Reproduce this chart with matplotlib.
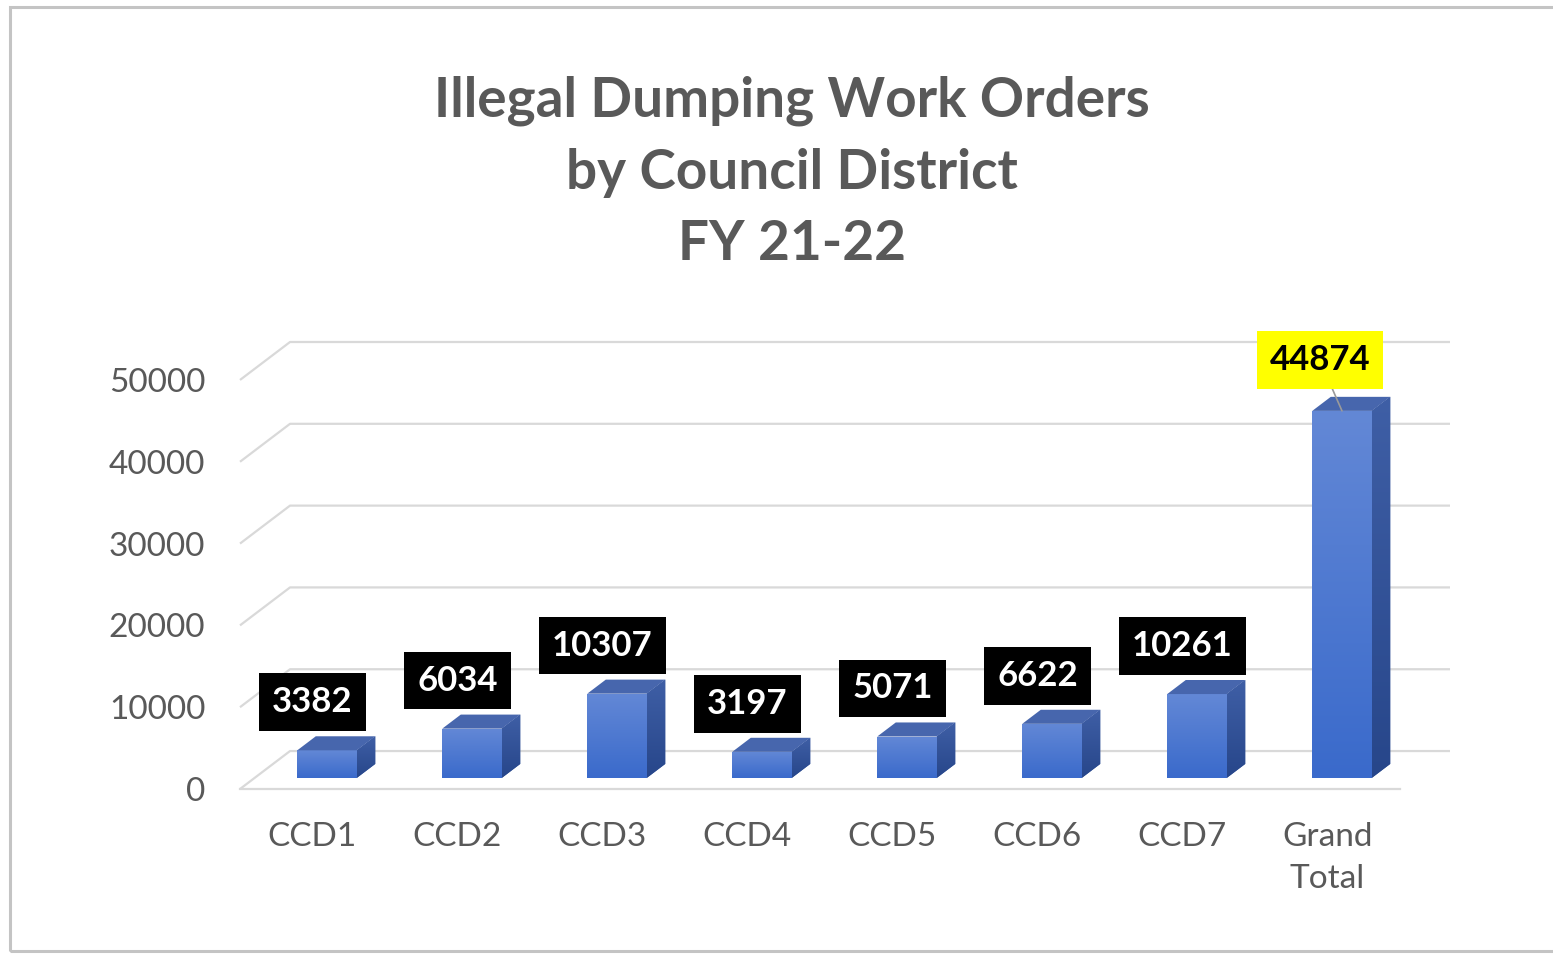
import numpy as np
import matplotlib
matplotlib.use("Agg")
import matplotlib.pyplot as plt
from matplotlib.patches import Polygon, Rectangle
from matplotlib.colors import LinearSegmentedColormap

# ---------------- data ----------------
categories = ["CCD1", "CCD2", "CCD3", "CCD4", "CCD5", "CCD6", "CCD7", "Grand\nTotal"]
values = [3382, 6034, 10307, 3197, 5071, 6622, 10261, 44874]
yticks = [0, 10000, 20000, 30000, 40000, 50000]
title_lines = ["Illegal Dumping Work Orders", "by Council District", "FY 21-22"]

# ---------------- style ----------------
W, H = 1553, 956
FONT = ["Lato", "DejaVu Sans"]
TXT = "#595959"
GRID = "#d9d9d9"
DX = 0.345      # full depth, category units
DY = 4640       # full depth, value units
D0, D1 = 0.29, 0.66   # bar depth range (fraction of floor depth)
BW = 0.41

plt.rcParams["font.family"] = FONT

fig = plt.figure(figsize=(W / 100, H / 100), dpi=100)
fig.patch.set_facecolor("white")

# outer frame
fig.patches.append(Rectangle((10 / W, 1 - 951 / H), (1600 - 10) / W, (951 - 7) / H,
                             transform=fig.transFigure, fill=False,
                             edgecolor="#c4c4c4", lw=2.2, zorder=0))

# title
for k, (line, base) in enumerate(zip(title_lines, [117, 189, 260])):
    fig.text(792 / W, 1 - base / H, line, ha="center", va="baseline",
             fontsize=39.5, fontweight="bold", color=TXT)

ax = fig.add_axes([240 / W, 1 - 789 / H, 1210 / W, 447 / H])
ax.set_facecolor("none")
for s in ax.spines.values():
    s.set_visible(False)

n = len(values)
xlo, xhi = -0.5, n - 0.5

# walls / gridlines
for t in yticks:
    ax.plot([xlo, xlo + DX, xhi + DX], [t, t + DY, t + DY], color=GRID, lw=1.6,
            zorder=1, clip_on=False, solid_capstyle="butt")
ax.plot([xlo, xhi], [0, 0], color=GRID, lw=1.6, zorder=1, clip_on=False)

# bars
x = np.arange(n)
xf = x + D0 * DX
y0 = D0 * DY
dd = D1 - D0
bars = ax.bar(xf, values, width=BW, bottom=y0, color="#4472c4", zorder=3, lw=0)

grad = LinearSegmentedColormap.from_list("g", ["#3a6acb", "#6388d6"])
side_cm = LinearSegmentedColormap.from_list("s", ["#27468a", "#3f5fa6"])
gy = np.linspace(0, 1, 256).reshape(-1, 1)
for i, (b, v) in enumerate(zip(bars, values)):
    xl, xr = xf[i] - BW / 2, xf[i] + BW / 2
    top = y0 + v
    im = ax.imshow(gy, cmap=grad, origin="lower", aspect="auto",
                   extent=[xl, xr, y0, top], zorder=3.1)
    im.set_clip_path(b)
    side = Polygon([(xr, y0), (xr, top), (xr + dd * DX, top + dd * DY),
                    (xr + dd * DX, y0 + dd * DY)], closed=True, lw=0,
                   facecolor="#34569c", zorder=3)
    ax.add_patch(side)
    im2 = ax.imshow(gy, cmap=side_cm, origin="lower", aspect="auto",
                    extent=[xr, xr + dd * DX, y0, top + dd * DY], zorder=3.1)
    im2.set_clip_path(side)
    ax.add_patch(Polygon([(xl, top), (xr, top), (xr + dd * DX, top + dd * DY),
                          (xl + dd * DX, top + dd * DY)], closed=True, lw=0,
                         facecolor="#4766ad", zorder=3.2))

# data labels
for i, v in enumerate(values):
    last = i == n - 1
    if last:
        ax.annotate(f"{v}", xy=(xf[i], y0 + v), xytext=(-16, 25),
                    textcoords="offset points", ha="center", va="bottom",
                    fontsize=25, fontweight="bold", color="black", zorder=6,
                    bbox=dict(boxstyle="square,pad=0.37", fc="#ffff00", ec="none"),
                    arrowprops=dict(arrowstyle="-", color="#9a9a9a", lw=1.2,
                                    shrinkA=0, shrinkB=0))
    else:
        ax.annotate(f"{v}", xy=(x[i], v + D1 * DY), xytext=(0, 13),
                    textcoords="offset points", ha="center", va="bottom",
                    fontsize=25, fontweight="bold", color="white", zorder=6,
                    bbox=dict(boxstyle="square,pad=0.37", fc="black", ec="none"))

ax.set_xlim(xlo, xhi + DX)
ax.set_ylim(0, yticks[-1] + DY)
ax.set_yticks(yticks)
ax.set_yticklabels([str(t) for t in yticks])
ax.set_xticks(x)
ax.set_xticklabels(categories, linespacing=1.5)
ax.tick_params(axis="y", length=0, pad=25, labelsize=24, labelcolor=TXT)
ax.tick_params(axis="x", length=0, pad=24, labelsize=24, labelcolor=TXT)

fig.savefig("out.png", dpi=100)
